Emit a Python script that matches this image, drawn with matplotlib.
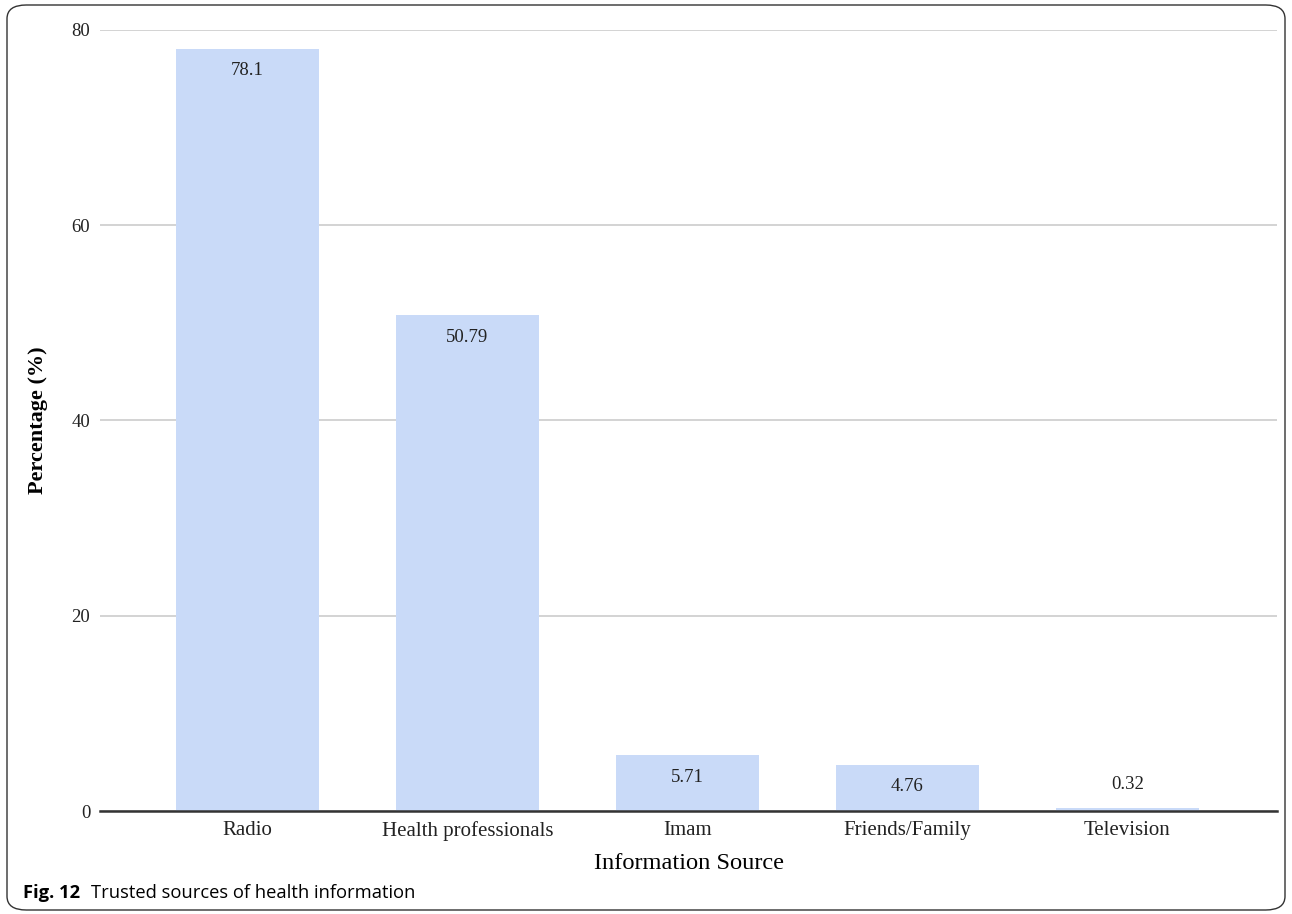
import matplotlib.pyplot as plt
from matplotlib.patches import FancyBboxPatch

categories = ["Radio", "Health professionals", "Imam", "Friends/Family", "Television"]
percentages = [78.1, 50.79, 5.71, 4.76, 0.32]
value_labels = ["78.1", "50.79", "5.71", "4.76", "0.32"]
y_ticks = [0, 20, 40, 60, 80]

BAR_COLOR = "#c9daf8"
SERIF = ["Liberation Serif", "DejaVu Serif"]
SANS = ["Open Sans", "Noto Sans", "DejaVu Sans"]

fig = plt.figure(figsize=(12.92, 9.14), dpi=100)
ax = fig.add_axes([100 / 1292, 103 / 914, 1177 / 1292, 781 / 914])

x = list(range(len(categories)))
ax.bar(x, percentages, width=0.65, color=BAR_COLOR, zorder=2)

for xi, v, lab in zip(x, percentages, value_labels):
    if v > 3:
        ax.annotate(lab, (xi, v), xytext=(0, -10), textcoords="offset points",
                    ha="center", va="top", fontsize=13.5, family=SERIF, color="#222222")
    else:
        ax.annotate(lab, (xi, v), xytext=(0, 11), textcoords="offset points",
                    ha="center", va="bottom", fontsize=13.5, family=SERIF, color="#222222")

ax.set_xlim(-0.67, 4.68)
ax.set_ylim(0, 80)
ax.set_yticks(y_ticks)
ax.set_xticks(x)
ax.set_xticklabels(categories, fontsize=15, family=SERIF, color="#222222")
ax.set_yticklabels([str(t) for t in y_ticks], fontsize=13.5, family=SERIF, color="#222222")
ax.tick_params(axis="both", length=0)
ax.tick_params(axis="y", pad=7)
ax.tick_params(axis="x", pad=7)
ax.grid(axis="y", color="#cccccc", linewidth=1.2, zorder=0)
for s in ["top", "right", "left", "bottom"]:
    ax.spines[s].set_visible(False)
ax.axhline(0, color="#333333", linewidth=1.8, zorder=3, clip_on=False)

ax.set_ylabel("Percentage (%)", fontsize=16, family=SERIF, fontweight="bold", labelpad=17)
ax.set_xlabel("Information Source", fontsize=17.6, family=SERIF, labelpad=9)

# caption
fig.text(23 / 1292, 1 - 893 / 914, "Fig. 12", fontsize=13.2, family=SANS, fontweight="bold",
         va="center", ha="left")
fig.text(91 / 1292, 1 - 893 / 914, "Trusted sources of health information", fontsize=13.2,
         family=SANS, va="center", ha="left")

# rounded border
border = FancyBboxPatch((7 / 1292, 4 / 914), 1278 / 1292, 905 / 914,
                        boxstyle="round,pad=0,rounding_size=0.015",
                        transform=fig.transFigure, fill=False, edgecolor="#333333",
                        linewidth=1.0)
fig.patches.append(border)

fig.savefig("out.png", dpi=100)
